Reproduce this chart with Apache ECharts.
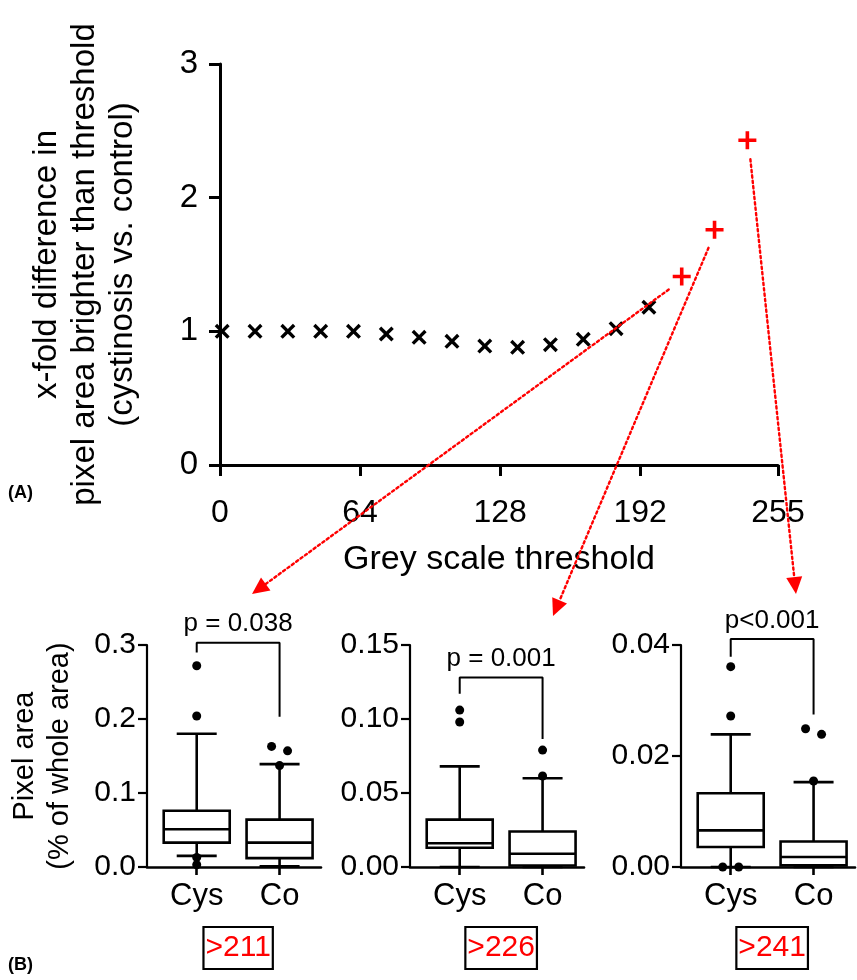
<!DOCTYPE html>
<html>
<head>
<meta charset="utf-8">
<script src="https://cdn.jsdelivr.net/npm/echarts@6/dist/echarts.min.js"></script>
<style>
html, body { margin: 0; background: #fff; }
#main { width: 857px; height: 980px; }
</style>
</head>
<body>
<div id="main"></div>
<script>
// (A) x-fold difference vs grey scale threshold
var thresholds = [1, 16, 31, 46, 61, 76, 91, 106, 121, 136, 151, 166, 181, 196];
var foldDiff = [1.0, 1.0, 1.0, 1.0, 1.0, 0.98, 0.955, 0.925, 0.89, 0.88, 0.90, 0.94, 1.02, 1.18];
var redThresholds = [211, 226, 241];
var redFoldDiff = [1.41, 1.76, 2.43];
var xTicks = [0, 64, 128, 192, 255];

// (B) box plots: [min, Q1, median, Q3, max] for Cys, Co
var groups = ['Cys', 'Co'];
var panelNames = ['>211', '>226', '>241'];
var box211 = [[0.015, 0.033, 0.051, 0.076, 0.180], [0.001, 0.012, 0.033, 0.064, 0.139]];
var box226 = [[0.0, 0.013, 0.016, 0.032, 0.068], [0.0, 0.001, 0.009, 0.024, 0.060]];
var box241 = [[0.0, 0.0036, 0.0066, 0.0133, 0.0239], [0.0, 0.0003, 0.0018, 0.0046, 0.0153]];
var out211 = [[0.272, 0.204, 0.013, 0.003], [0.163, 0.157, 0.137]];
var out226 = [[0.106, 0.098], [0.079, 0.0615]];
var out241 = [[0.0361, 0.0272, 0.0, 0.0], [0.0249, 0.0239, 0.0155]];
var yMax = [0.3, 0.15, 0.04];
var yStep = [0.1, 0.05, 0.02];
var yDigits = [1, 2, 2];
// bracket: left leg end, top, right leg end
var bracket211 = [0.29, 0.303, 0.203];
var bracket226 = [0.117, 0.128, 0.0865];
var bracket241 = [0.0379, 0.0411, 0.0275];
var pText = ['p = 0.038', 'p = 0.001', 'p<0.001'];

var FONT = 'Liberation Sans, Arial, sans-serif';
var chart = echarts.init(document.getElementById('main'));

var crossPath = 'path://M0,1.6L1.6,0L5,3.4L8.4,0L10,1.6L6.6,5L10,8.4L8.4,10L5,6.6L1.6,10L0,8.4L3.4,5Z';
var plusPath = 'path://M4,0L6,0L6,4L10,4L10,6L6,6L6,10L4,10L4,6L0,6L0,4L4,4Z';

var boxes = [box211, box226, box241];
var outs = [out211, out226, out241];
var brackets = [bracket211, bracket226, bracket241];
var panelLeft = [147, 410, 681];

function renderBox(params, api) {
  var x = api.value(0);
  var lo = api.coord([x, api.value(1)]);
  var q1 = api.coord([x, api.value(2)]);
  var md = api.coord([x, api.value(3)]);
  var q3 = api.coord([x, api.value(4)]);
  var hi = api.coord([x, api.value(5)]);
  var cx = lo[0], hw = 33, cw = 20;
  var st = { stroke: '#000', lineWidth: 2.6, fill: null };
  return {
    type: 'group',
    children: [
      { type: 'line', shape: { x1: cx, y1: hi[1], x2: cx, y2: q3[1] }, style: st },
      { type: 'line', shape: { x1: cx, y1: q1[1], x2: cx, y2: lo[1] }, style: st },
      { type: 'line', shape: { x1: cx - cw, y1: hi[1], x2: cx + cw, y2: hi[1] }, style: st },
      { type: 'line', shape: { x1: cx - cw, y1: lo[1], x2: cx + cw, y2: lo[1] }, style: st },
      { type: 'rect', shape: { x: cx - hw, y: q3[1], width: hw * 2, height: q1[1] - q3[1] },
        style: { stroke: '#000', lineWidth: 2.6, fill: '#fff' } },
      { type: 'line', shape: { x1: cx - hw, y1: md[1], x2: cx + hw, y2: md[1] }, style: st }
    ]
  };
}

// outlier dots that nearly coincide are drawn side by side
function outlierData(list, maxV) {
  var res = [];
  list.forEach(function (vals, gi) {
    var sorted = vals.slice().sort(function (a, b) { return b - a; });
    for (var i = 0; i < sorted.length; i++) {
      if (i + 1 < sorted.length && sorted[i] - sorted[i + 1] < maxV * 0.03) {
        res.push({ value: [gi + 1, sorted[i]], symbolOffset: [-8, 0] });
        res.push({ value: [gi + 1, sorted[i + 1]], symbolOffset: [8, 0] });
        i++;
        continue;
      }
      res.push({ value: [gi + 1, sorted[i]] });
    }
  });
  return res;
}

var grids = [{ left: 220, right: 79, top: 64, bottom: 515, outerBoundsMode: 'none' }];
var xAxes = [{
  type: 'value', gridIndex: 0, min: 0, max: 255,
  name: 'Grey scale threshold', nameLocation: 'middle', nameGap: 78,
  nameTextStyle: { fontFamily: FONT, fontSize: 34, color: '#000' },
  axisLine: { lineStyle: { color: '#000', width: 3 } },
  axisTick: { customValues: xTicks, length: 11, lineStyle: { color: '#000', width: 3 } },
  axisLabel: { customValues: xTicks, margin: 32, fontFamily: FONT, fontSize: 32, color: '#000' },
  splitLine: { show: false }
}];
var yAxes = [{
  type: 'value', gridIndex: 0, min: 0, max: 3, interval: 1,
  name: 'x-fold difference in\npixel area brighter than threshold\n(cystinosis vs. control)',
  nameLocation: 'middle', nameGap: 78,
  nameTextStyle: { fontFamily: FONT, fontSize: 33, lineHeight: 38, color: '#000' },
  axisLine: { show: true, lineStyle: { color: '#000', width: 3 } },
  axisTick: { show: true, length: 11, lineStyle: { color: '#000', width: 3 } },
  axisLabel: { margin: 22, fontFamily: FONT, fontSize: 33, color: '#000' },
  splitLine: { show: false }
}];
var series = [
  { type: 'scatter', xAxisIndex: 0, yAxisIndex: 0, symbol: crossPath, symbolSize: 15,
    itemStyle: { color: '#000', opacity: 1 }, clip: false, z: 4,
    data: thresholds.map(function (t, i) { return [t, foldDiff[i]]; }) },
  { type: 'scatter', xAxisIndex: 0, yAxisIndex: 0, symbol: plusPath, symbolSize: 18,
    itemStyle: { color: '#ff0000', opacity: 1 }, clip: false, z: 4,
    data: redThresholds.map(function (t, i) { return [t, redFoldDiff[i]]; }) }
];

for (var k = 0; k < 3; k++) {
  var gi = k + 1;
  grids.push({ left: panelLeft[k], width: 174, top: 645, bottom: 113, outerBoundsMode: 'none' });
  xAxes.push({
    type: 'value', gridIndex: gi, min: 0.4, max: 2.5,
    axisLine: { lineStyle: { color: '#000', width: 2.6 } },
    axisTick: { customValues: [1, 2], length: 8, lineStyle: { color: '#000', width: 2.6 } },
    axisLabel: { customValues: [1, 2], margin: 14, fontFamily: FONT, fontSize: 31, color: '#000',
      formatter: function (v) { return groups[Math.round(v) - 1]; } },
    splitLine: { show: false }
  });
  var ya = {
    type: 'value', gridIndex: gi, min: 0, max: yMax[k], interval: yStep[k],
    axisLine: { show: true, lineStyle: { color: '#000', width: 2.2 } },
    axisTick: { show: true, length: 9, lineStyle: { color: '#000', width: 2.2 } },
    axisLabel: { margin: 11, fontFamily: FONT, fontSize: 30, color: '#000',
      formatter: (function (d) { return function (v) { return v.toFixed(d); }; })(yDigits[k]) },
    splitLine: { show: false }
  };
  if (k === 0) {
    ya.name = 'Pixel area\n(% of whole area)';
    ya.nameLocation = 'middle';
    ya.nameGap = 70;
    ya.nameTextStyle = { fontFamily: FONT, fontSize: 29, lineHeight: 35, color: '#000' };
  }
  yAxes.push(ya);
  series.push({
    type: 'custom', xAxisIndex: gi, yAxisIndex: gi, renderItem: renderBox, clip: false,
    data: boxes[k].map(function (b, i) { return [i + 1].concat(b); })
  });
  series.push({
    type: 'scatter', xAxisIndex: gi, yAxisIndex: gi, symbol: 'circle', symbolSize: 9,
    itemStyle: { color: '#000', opacity: 1 }, clip: false, z: 5,
    data: outlierData(outs[k], yMax[k])
  });
  var br = brackets[k];
  series.push({
    type: 'line', xAxisIndex: gi, yAxisIndex: gi, symbol: 'none', clip: false,
    lineStyle: { color: '#000', width: 2 },
    data: [[1, br[0]], [1, br[1]], [2, br[1]], [2, br[2]]]
  });
  series.push({
    type: 'scatter', xAxisIndex: gi, yAxisIndex: gi, symbolSize: 1, clip: false,
    itemStyle: { color: 'rgba(0,0,0,0)', opacity: 1 },
    label: { show: true, position: 'top', distance: 5, formatter: pText[k], opacity: 1,
      fontFamily: FONT, fontSize: 26, color: '#000' },
    data: [[1.5, br[1]]]
  });
}

chart.setOption({
  animation: false,
  backgroundColor: '#fff',
  grid: grids,
  xAxis: xAxes,
  yAxis: yAxes,
  series: series
});

// red dotted arrows from the highlighted thresholds to the panels, plus panel tags
var arrowEnds = [[252, 594], [553, 616], [796, 594]];
var arrowStartShift = [[-13, 13], [-6, 18], [3, 19]];
var graphics = [];
redThresholds.forEach(function (t, i) {
  var p = chart.convertToPixel({ seriesIndex: 1 }, [t, redFoldDiff[i]]);
  var s = [p[0] + arrowStartShift[i][0], p[1] + arrowStartShift[i][1]];
  var e = arrowEnds[i];
  var dx = e[0] - s[0], dy = e[1] - s[1];
  var len = Math.sqrt(dx * dx + dy * dy);
  var ux = dx / len, uy = dy / len;
  var hl = 17, hw = 8;
  var bx = e[0] - ux * hl, by = e[1] - uy * hl;
  graphics.push({
    type: 'line', z: 100,
    shape: { x1: s[0], y1: s[1], x2: bx, y2: by },
    style: { stroke: '#ff0000', lineWidth: 2.4, lineDash: [2.4, 3], lineCap: 'round' }
  });
  graphics.push({
    type: 'polygon', z: 100,
    shape: { points: [[e[0], e[1]], [bx - uy * hw, by + ux * hw], [bx + uy * hw, by - ux * hw]] },
    style: { fill: '#ff0000' }
  });
  var c = chart.convertToPixel({ gridIndex: i + 1 }, [1.5, 0]);
  graphics.push({
    type: 'text', z: 100, x: c[0], y: 948,
    style: { text: panelNames[i], fill: '#ff0000', font: '30px ' + FONT,
      align: 'center', verticalAlign: 'middle',
      borderColor: '#000', borderWidth: 2.2, padding: [7, 2, 5, 2] }
  });
});
graphics.push({ type: 'text', left: 8, top: 484,
  style: { text: '(A)', fill: '#000', font: 'bold 18px ' + FONT } });
graphics.push({ type: 'text', left: 8, top: 956,
  style: { text: '(B)', fill: '#000', font: 'bold 18px ' + FONT } });
chart.setOption({ graphic: graphics });
</script>
</body>
</html>
